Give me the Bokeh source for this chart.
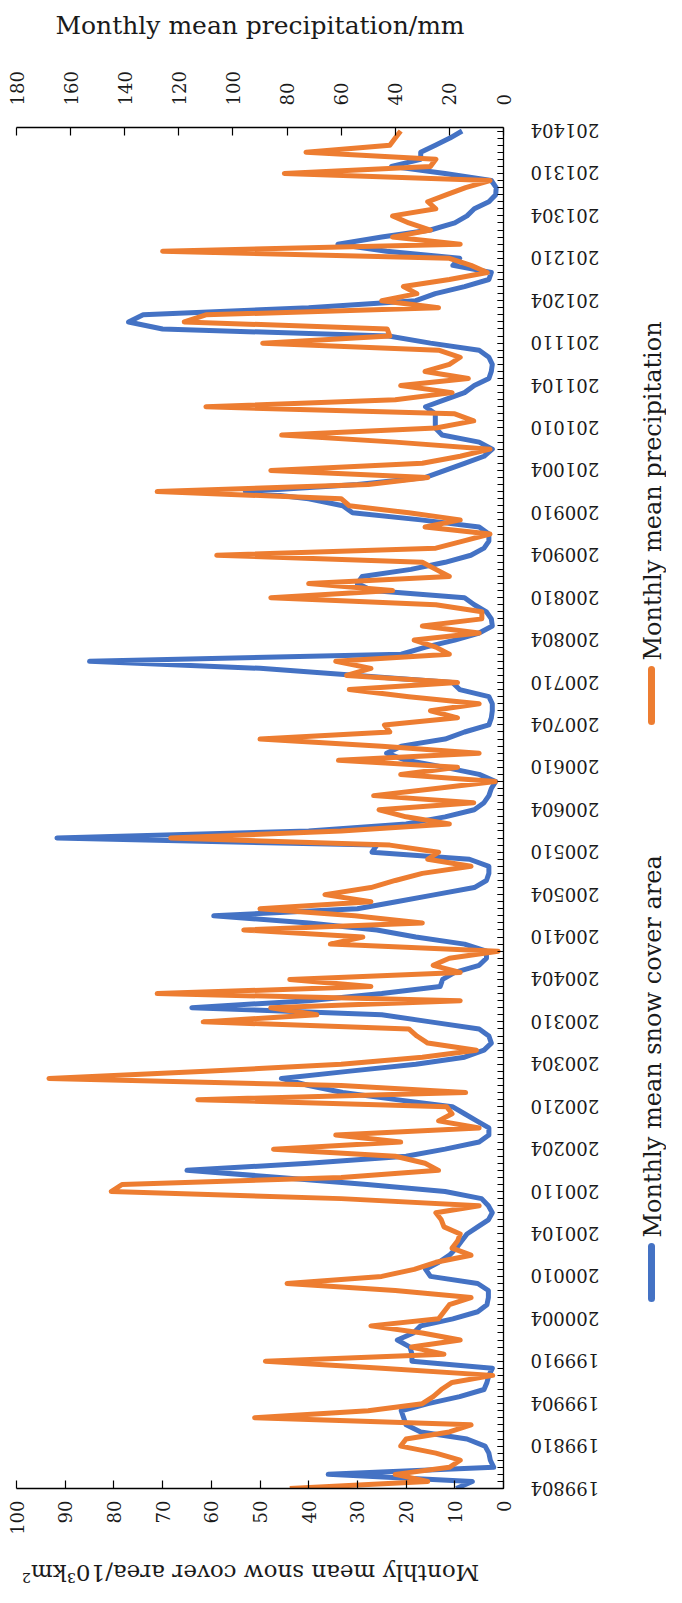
import math
from bokeh.plotting import figure
from bokeh.models import Range1d, LinearAxis, FixedTicker, ColumnDataSource, Label
from bokeh.layouts import column, row
from bokeh.core.properties import value
from bokeh.embed import file_html
from bokeh.resources import INLINE

# ---- data -------------------------------------------------------------
tick_labels = ["199804", "199810", "199904", "199910", "200004", "200010",
               "200104", "200110", "200204", "200210", "200304", "200310",
               "200404", "200410", "200504", "200510", "200604", "200610",
               "200704", "200710", "200804", "200810", "200904", "200910",
               "201004", "201010", "201104", "201110", "201204", "201210",
               "201304", "201310", "201404"]

# Monthly mean snow cover area (10^3 km^2), 1998-04 ... 2014-04
snow = [
    9.7, 6.4, 36, 2, 2.7, 3, 3.8, 7.5, 17, 20, 20.5, 21,
    15.5, 9, 4, 3.4, 3, 2.3, 18.8, 18.8, 19.2, 21.8, 18.5, 17,
    10.4, 5.3, 3.4, 3.1, 3.1, 5.3, 15, 16, 13.3, 11.1, 9.7, 8.6,
    7.5, 5.3, 3.1, 2.3, 3.1, 4.5, 12, 28, 46, 65, 40, 20,
    12, 5, 3, 3, 5.5, 8, 10.5, 22, 33, 40, 45.6, 32,
    18, 8, 4, 2.5, 3, 5, 15, 25, 64, 40, 25, 13,
    12.5, 10, 5, 3.5, 3.5, 8, 18, 26, 40, 59.5, 30, 22,
    14, 6, 3.5, 3, 3, 7, 27, 26, 91.7, 40, 20, 12,
    6, 4, 3, 2.5, 1.6, 5, 12, 20, 24, 21, 12, 8,
    3, 2.5, 2.3, 2.3, 3, 9, 10.5, 30, 50, 85, 21, 16,
    10, 5, 2.3, 2.5, 3.5, 6, 8, 27, 30, 29, 19, 12,
    6.7, 4, 3, 3, 5, 17, 31, 33, 40, 53, 30, 16,
    12, 8, 4, 2.3, 5, 12.6, 14, 14, 14, 16, 12, 8,
    6, 3, 2.5, 2.3, 3, 5, 15, 23.6, 70, 77, 74, 40,
    18, 14, 8, 3, 2.5, 10.4, 9, 24, 34, 25, 15, 10,
    7.5, 6, 3, 1.6, 1.5, 2.5, 12, 23, 17, 17, 14, 11,
    8.5,
]

# Monthly mean precipitation (mm), 1998-04 ... 2014-04
precip = [
    79, 28, 40, 20, 16, 25, 38, 36, 20, 12, 92, 50,
    30, 26, 23, 19, 4, 45, 88, 22, 34, 16, 30, 49,
    24, 22, 20, 12, 40, 80, 45, 33, 25, 12, 19, 17,
    16, 22, 23, 25, 9, 60, 145, 141, 60, 24, 29, 40,
    85, 38, 62, 9, 24, 19, 21, 113, 14, 60, 168, 110,
    60, 30, 10, 28, 32, 35, 111, 69, 86, 16, 128, 49,
    79, 16, 26, 20, 2, 64, 52, 96, 30, 55, 90, 49,
    66, 49, 40, 30, 12, 28, 24, 42, 123, 60, 20, 36,
    46, 11, 48, 25, 3, 38, 17, 61, 9, 45, 90, 42,
    44, 17, 27, 9, 35, 57, 17, 58, 49, 62, 20, 25,
    33, 9, 30, 8, 8, 25, 86, 41, 72, 20, 25, 30,
    106, 25, 15, 5, 29, 16, 35, 57, 60, 128, 50, 28,
    86, 30, 16, 5, 40, 82, 25, 11, 18, 110, 40, 19,
    38, 13, 29, 20, 16, 24, 89, 42, 43, 118, 110, 24,
    45, 32, 37, 20, 6, 12, 20, 126, 16, 41, 27, 35,
    41, 25, 28, 21, 14, 5, 81, 27, 25, 73, 42, 40,
    38,
]

snow_ticks = [0, 10, 20, 30, 40, 50, 60, 70, 80, 90, 100]
precip_ticks = [0, 20, 40, 60, 80, 100, 120, 140, 160, 180]
legend_names = ["Monthly mean snow cover area", "Monthly mean precipitation"]

months = list(range(len(snow)))
tick_pos = [i * 6 for i in range(len(tick_labels))]

# ---- geometry (page px; the page has an 8px margin) -------------------
BLUE = "#4472C4"
ORANGE = "#ED7D31"
FONT = "DejaVu Serif"
TXT = "#1a1a1a"

M = 8
TOTAL_W, TOTAL_H = 666, 1587
FRAME_LEFT, FRAME_RIGHT = 24, 511
FRAME_TOP, FRAME_BOTTOM = 135, 1496
W_MAIN = FRAME_RIGHT - M + 10
H_MAIN = 1542
B_TOP = FRAME_TOP - M
B_BOTTOM = H_MAIN - (FRAME_BOTTOM - M)
Y_START, Y_END = 0, 192.5
PX_PER_MONTH = (FRAME_BOTTOM - FRAME_TOP) / (Y_END - Y_START)


def no_align(fig):
    try:
        fig.frame_align = False
    except Exception:
        pass


p = figure(width=W_MAIN, height=H_MAIN,
           x_range=Range1d(100, 0), y_range=Range1d(Y_START, Y_END),
           x_axis_location="below", y_axis_location="right",
           output_backend="svg", toolbar_location=None,
           min_border_left=FRAME_LEFT - M, min_border_right=10,
           min_border_top=B_TOP, min_border_bottom=B_BOTTOM)
p.title = None
p.outline_line_color = None
p.grid.visible = False
no_align(p)

p.extra_x_ranges = {"precip": Range1d(180, 0)}
top_axis = LinearAxis(x_range_name="precip",
                      axis_label="Monthly mean precipitation/mm")
p.add_layout(top_axis, "above")

bottom_axis = p.below[0]
right_axis = p.right[0]

bottom_axis.ticker = FixedTicker(ticks=snow_ticks)
top_axis.ticker = FixedTicker(ticks=precip_ticks)

for ax in (bottom_axis, top_axis):
    ax.major_tick_in = 8
    ax.major_tick_out = 0
    ax.minor_tick_line_color = None
    ax.axis_line_color = "black"
    ax.axis_line_width = 1.3
    ax.major_tick_line_color = "black"
    ax.major_tick_line_width = 1.2
    ax.major_label_orientation = math.pi / 2
    ax.major_label_text_font = FONT
    ax.major_label_text_font_size = "18px"
    ax.major_label_text_color = TXT
    ax.axis_label_text_font = FONT
    ax.axis_label_text_font_style = "normal"
    ax.axis_label_text_color = TXT

top_axis.major_label_standoff = 22
top_axis.axis_label_standoff = 28
top_axis.axis_label_text_font_size = "25px"
bottom_axis.major_label_standoff = 12

right_axis.ticker = FixedTicker(ticks=tick_pos, minor_ticks=months)
right_axis.major_label_overrides = {t: "" for t in tick_pos}
right_axis.major_label_standoff = 0
right_axis.axis_line_color = "black"
right_axis.axis_line_width = 1.3
right_axis.major_tick_in = 6
right_axis.major_tick_out = 0
right_axis.minor_tick_in = 6
right_axis.minor_tick_out = 0
right_axis.major_tick_line_color = "black"
right_axis.minor_tick_line_color = "black"

p.line(snow, months, line_color=BLUE, line_width=5, line_join="round")
p.line(precip, months, line_color=ORANGE, line_width=5, line_join="round",
       x_range_name="precip")

# ---- side panel: time tick labels (upside down) + rotated legend -------
W_SIDE = TOTAL_W - W_MAIN
SIDE_X0 = M + W_MAIN                   # page x of the side panel
PAD = 20
pad_units = PAD / PX_PER_MONTH
side = figure(width=W_SIDE, height=H_MAIN,
              x_range=Range1d(0, W_SIDE),
              y_range=Range1d(Y_START - pad_units, Y_END + pad_units),
              x_axis_location=None, y_axis_location=None,
              output_backend="svg", toolbar_location=None,
              min_border_left=0, min_border_right=0,
              min_border_top=B_TOP - PAD, min_border_bottom=B_BOTTOM - PAD)
side.title = None
side.outline_line_color = None
side.grid.visible = False
no_align(side)

lab_src = ColumnDataSource(dict(x=[538 - SIDE_X0] * len(tick_pos), y=tick_pos,
                                t=tick_labels))
side.text(x="x", y="y", text="t", source=lab_src, angle=math.pi,
          text_align="right", text_baseline="middle",
          text_font=value(FONT), text_font_size="18px", text_color=TXT)


def ypx(page_y):
    return (FRAME_BOTTOM - page_y) / PX_PER_MONTH


LEG_LINE_X = 659 - SIDE_X0
LEG_TEXT_X = 660 - SIDE_X0
side.line([LEG_LINE_X, LEG_LINE_X], [ypx(1306), ypx(1254)], line_color=BLUE,
          line_width=7, line_cap="round")
side.line([LEG_LINE_X, LEG_LINE_X], [ypx(729), ypx(677)], line_color=ORANGE,
          line_width=7, line_cap="round")
leg_src = ColumnDataSource(dict(x=[LEG_TEXT_X, LEG_TEXT_X],
                                y=[ypx(1245), ypx(668)], t=legend_names))
side.text(x="x", y="y", text="t", source=leg_src, angle=math.pi / 2,
          text_align="left", text_baseline="middle",
          text_font=value(FONT), text_font_size="24px", text_color=TXT)

# ---- bottom: upside-down axis title -----------------------------------
H_BOT = TOTAL_H - H_MAIN
BOT_Y0 = M + H_MAIN                    # page y of the bottom strip
bot = figure(width=TOTAL_W, height=H_BOT,
             x_range=Range1d(0, TOTAL_W), y_range=Range1d(0, H_BOT),
             x_axis_location=None, y_axis_location=None,
             output_backend="svg", toolbar_location=None,
             min_border_left=0, min_border_right=0,
             min_border_top=0, min_border_bottom=0)
bot.title = None
bot.outline_line_color = None
bot.grid.visible = False
no_align(bot)
bot.add_layout(Label(x=258 - M, y=H_BOT - (1580 - BOT_Y0),
                     text="Monthly mean snow cover area/10\u00b3km\u00b2",
                     angle=math.pi, text_align="center", text_baseline="middle",
                     text_font=FONT, text_font_size="23px", text_color=TXT))

layout = column(row(p, side), bot)
open("out.html", "w").write(file_html(layout, INLINE))
